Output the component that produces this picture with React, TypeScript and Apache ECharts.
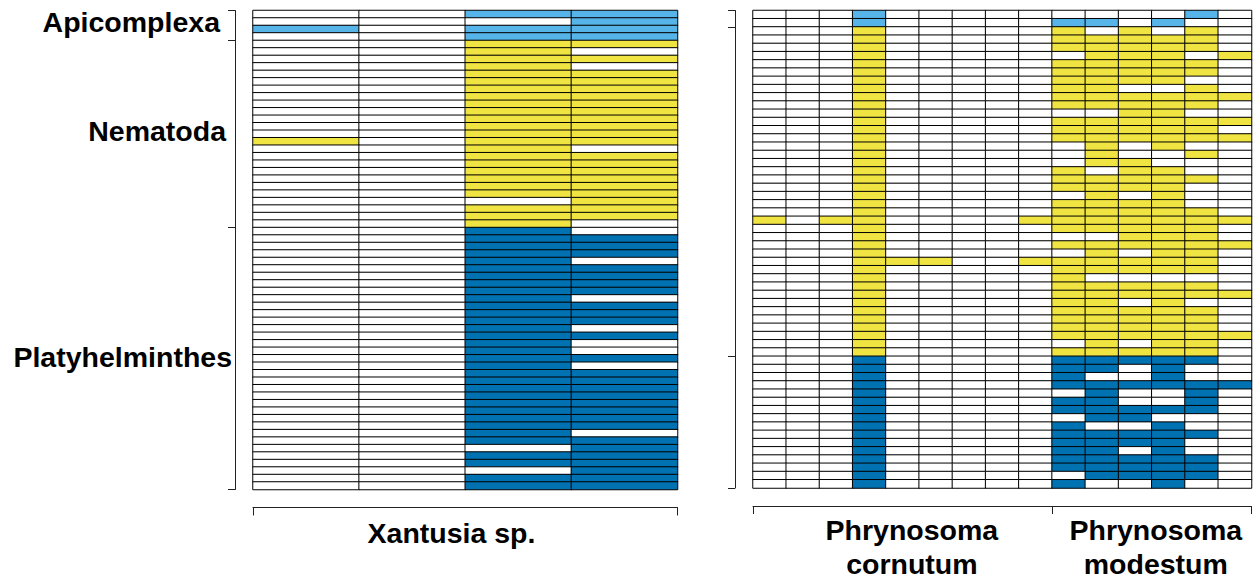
import React, { useEffect, useRef } from "react";
import * as echarts from "echarts";

const groupNames = ["Apicomplexa", "Nematoda", "Platyhelminthes"];
const groupColors = ["#56B4E9", "#F0E442", "#0072B2"];

// Xantusia sp. panel: 4 host columns, 64 parasite rows (1 = present)
const xantusiaGroupSizes = [4, 25, 35];
const xantusiaRows = [
  "0011", "0001", "1011", "0011",
  "0011", "0010", "0011", "0010", "0011", "0011", "0011", "0011", "0011",
  "0011", "0011", "0011", "0011", "1011", "0010", "0011", "0011", "0011",
  "0011", "0011", "0011", "0001", "0011", "0011", "0010",
  "0010", "0011", "0011", "0011", "0010", "0011", "0011", "0011", "0011",
  "0010", "0011", "0011", "0011", "0010", "0011", "0010", "0010", "0011",
  "0010", "0011", "0011", "0011", "0011", "0011", "0011", "0011", "0011",
  "0010", "0011", "0001", "0011", "0011", "0001", "0011", "0011",
];

// Phrynosoma panel: 58 parasite rows
const phrynoGroupSizes = [2, 40, 16];
const cornutumRows = [
  "000100000", "000100000",
  "000100000", "000100000", "000100000", "000100000", "000100000", "000100000",
  "000100000", "000100000", "000100000", "000100000", "000100000", "000100000",
  "000100000", "000100000", "000100000", "000100000", "000100000", "000100000",
  "000100000", "000100000", "000100000", "000100000", "000100000", "101100001",
  "000100000", "000100000", "000100000", "000100000", "000111001", "000100000",
  "000100000", "000100000", "000100000", "000100000", "000100000", "000100000",
  "000100000", "000100000", "000100000", "000100000",
  "000100000", "000100000", "000100000", "000100000", "000100000", "000100000",
  "000100000", "000100000", "000100000", "000100000", "000100000", "000100000",
  "000100000", "000100000", "000100000", "000100000",
];
const modestumRows = [
  "000010", "110100",
  "101010", "111110", "111110", "011101", "111110", "111110", "111100",
  "110010", "111111", "111110", "001100", "111111", "111110", "111111",
  "010100", "010010", "011000", "101100", "111110", "111100", "010100",
  "111100", "111110", "111111", "111110", "001110", "111111", "010110",
  "111110", "111110", "100000", "111110", "111111", "110100", "111110",
  "111110", "111110", "111111", "010110", "111110",
  "111110", "110100", "100100", "111111", "010010", "110010", "111110",
  "011000", "100100", "111110", "111100", "110100", "111110", "111110",
  "011110", "100100",
];

const xantusiaLabel = "Xantusia sp.";
const phrynoHostLabels = ["Phrynosoma\ncornutum", "Phrynosoma\nmodestum"];
const phrynoHostSizes = [9, 6];

function groupOfRows(sizes: number[]): number[] {
  const out: number[] = [];
  sizes.forEach((s, g) => {
    for (let i = 0; i < s; i++) out.push(g);
  });
  return out;
}

function buildCells(rows: string[], sizes: number[]) {
  const grp = groupOfRows(sizes);
  const data: number[][] = [];
  rows.forEach((row, r) => {
    for (let c = 0; c < row.length; c++) {
      data.push([c, r, row[c] === "1" ? grp[r] + 1 : 0]);
    }
  });
  return data;
}

function boundaries(sizes: number[]): number[] {
  const b = [0];
  sizes.forEach((s) => b.push(b[b.length - 1] + s));
  return b;
}

function centers(sizes: number[]): number[] {
  const b = boundaries(sizes);
  return sizes.map((s, i) => b[i] + s / 2);
}

const FONT = "'Liberation Sans', Arial, Helvetica, sans-serif";

export default function App() {
  const ref = useRef<HTMLDivElement>(null);
  useEffect(() => {
    if (!ref.current) return;
    const chart = echarts.init(ref.current, undefined, { renderer: "svg" });

    const rightRows = cornutumRows.map((r, i) => r + modestumRows[i]);
    const nLeftCols = xantusiaRows[0].length;
    const nRightCols = rightRows[0].length;

    const leftYCenters = centers(xantusiaGroupSizes);
    const hostBounds = boundaries(phrynoHostSizes);

    const bracketLine = { show: true, lineStyle: { color: "#222", width: 1 } };
    const labelStyle = {
      color: "#000",
      fontFamily: FONT,
      fontWeight: "bold" as const,
      fontSize: 28.5,
    };
    const richBase = { ...labelStyle };

    const option: any = {
      animation: false,
      backgroundColor: "#fff",
      grid: [
        { left: 253, top: 10.5, width: 424.5, height: 479 },
        { left: 753, top: 10.5, width: 498.5, height: 479 },
      ],
      xAxis: [
        {
          type: "category",
          gridIndex: 0,
          data: Array.from({ length: nLeftCols }, (_, i) => String(i)),
          show: false,
        },
        {
          type: "category",
          gridIndex: 1,
          data: Array.from({ length: nRightCols }, (_, i) => String(i)),
          show: false,
        },
        {
          type: "value",
          gridIndex: 0,
          position: "bottom",
          offset: 18,
          min: 0,
          max: nLeftCols,
          axisLine: bracketLine,
          splitLine: { show: false },
          axisTick: {
            show: true,
            customValues: [0, nLeftCols],
            length: 8,
            lineStyle: { color: "#222" },
          },
          axisLabel: {
            ...labelStyle,
            customValues: [1.87],
            formatter: () => xantusiaLabel,
            margin: 8,
            lineHeight: 34,
          },
        },
        {
          type: "value",
          gridIndex: 1,
          position: "bottom",
          offset: 18,
          min: 0,
          max: nRightCols,
          axisLine: bracketLine,
          splitLine: { show: false },
          axisTick: {
            show: true,
            customValues: hostBounds,
            length: 8,
            lineStyle: { color: "#222" },
          },
          axisLabel: {
            ...labelStyle,
            customValues: [4.78, 12.12],
            formatter: (v: number) => (v < hostBounds[1] ? phrynoHostLabels[0] : phrynoHostLabels[1]),
            margin: 7,
            lineHeight: 34,
          },
        },
      ],
      yAxis: [
        {
          type: "category",
          gridIndex: 0,
          inverse: true,
          data: xantusiaRows.map((_, i) => String(i)),
          show: false,
        },
        {
          type: "category",
          gridIndex: 1,
          inverse: true,
          data: rightRows.map((_, i) => String(i)),
          show: false,
        },
        {
          type: "value",
          gridIndex: 0,
          position: "left",
          offset: 18,
          inverse: true,
          min: 0,
          max: xantusiaRows.length,
          axisLine: bracketLine,
          splitLine: { show: false },
          axisTick: {
            show: true,
            customValues: boundaries(xantusiaGroupSizes),
            length: 7,
            lineStyle: { color: "#222" },
          },
          axisLabel: {
            ...labelStyle,
            customValues: leftYCenters,
            formatter: (v: number) => {
              let best = 0;
              leftYCenters.forEach((c, i) => {
                if (Math.abs(c - v) < Math.abs(leftYCenters[best] - v)) best = i;
              });
              return "{g" + best + "|" + groupNames[best] + "}";
            },
            rich: {
              g0: { ...richBase, padding: [0, 12, 6, 0] },
              g1: { ...richBase, padding: [0, 6, 6, 0] },
              g2: { ...richBase, padding: [0, 0, 4, 0] },
            },
            margin: 3,
          },
        },
        {
          type: "value",
          gridIndex: 1,
          position: "left",
          offset: 18,
          inverse: true,
          min: 0,
          max: rightRows.length,
          axisLine: bracketLine,
          splitLine: { show: false },
          axisTick: {
            show: true,
            customValues: boundaries(phrynoGroupSizes),
            length: 7,
            lineStyle: { color: "#222" },
          },
          axisLabel: { show: false },
        },
      ],
      visualMap: {
        type: "piecewise",
        show: false,
        dimension: 2,
        seriesIndex: [0, 1],
        pieces: [
          { value: 0, color: "#ffffff" },
          { value: 1, color: groupColors[0] },
          { value: 2, color: groupColors[1] },
          { value: 3, color: groupColors[2] },
        ],
      },
      series: [
        {
          type: "heatmap",
          xAxisIndex: 0,
          yAxisIndex: 0,
          data: buildCells(xantusiaRows, xantusiaGroupSizes),
          itemStyle: { borderColor: "#000", borderWidth: 1 },
          emphasis: { disabled: true },
        },
        {
          type: "heatmap",
          xAxisIndex: 1,
          yAxisIndex: 1,
          data: buildCells(rightRows, phrynoGroupSizes),
          itemStyle: { borderColor: "#000", borderWidth: 1 },
          emphasis: { disabled: true },
        },
      ],
    };

    chart.setOption(option);
    return () => chart.dispose();
  }, []);

  return (
    <div
      ref={ref}
      style={{ position: "absolute", left: 0, top: 0, width: 1258, height: 581 }}
    />
  );
}
